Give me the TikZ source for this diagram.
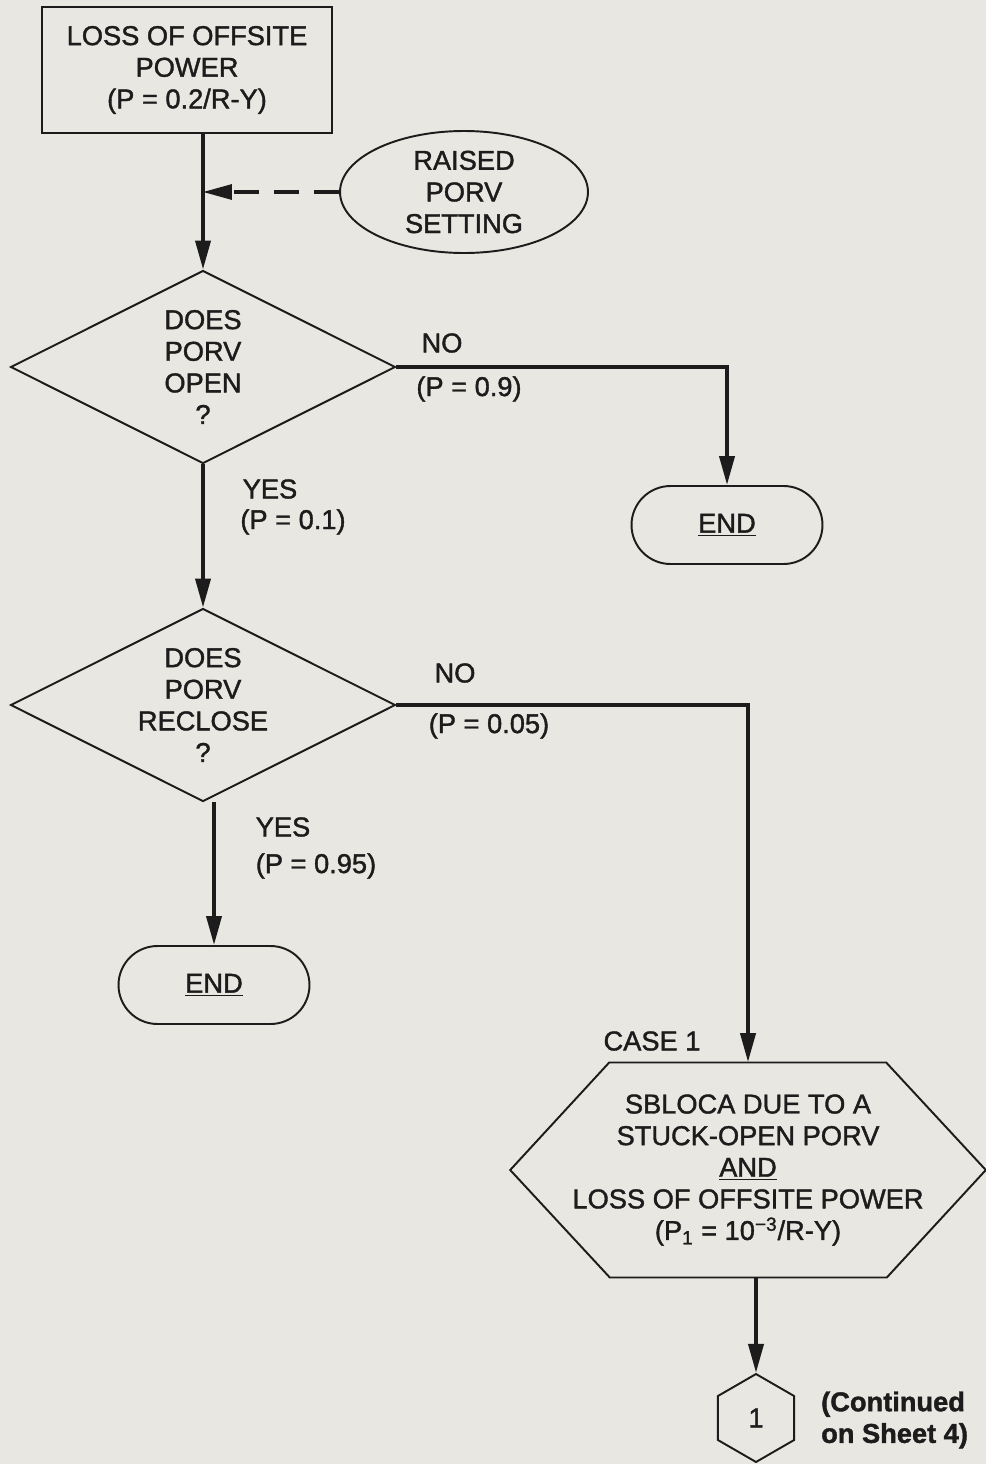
\documentclass[tikz,border=0pt]{standalone}
\usepackage{fontspec}
\setmainfont{Liberation Sans}[FakeBold=1.4]
\usepackage{xcolor}
\usepackage{tikz}
\usetikzlibrary{arrows.meta,shapes.geometric,positioning}

\definecolor{paper}{RGB}{233,231,225}
\definecolor{ink}{RGB}{28,28,28}

\begin{document}
\begin{tikzpicture}[x=0.02cm,y=-0.02cm,>={Triangle[length=0.58cm,width=0.3cm]},
  font={\fontsize{15.5}{18}\selectfont},ink,
  box/.style={draw,line width=1.1pt,align=center,inner sep=0pt},
  flow/.style={->,line width=2.2pt},
  endbox/.style={box,minimum width=3.82cm,minimum height=1.56cm,rounded corners=0.78cm},
  ask/.style={box,diamond,aspect=2,minimum width=7.7cm,minimum height=3.86cm}]
\fill[paper] (0,0) rectangle (986,1464);
\useasboundingbox (0,0) rectangle (986,1464);
% boxes
\node[box,minimum width=5.8cm,minimum height=2.52cm] (lop) at (187,70) {LOSS OF OFFSITE\\POWER\\(P = 0.2/R-Y)};
\node[box,ellipse,minimum width=4.96cm,minimum height=2.44cm] (raised) at (464,192) {RAISED\\PORV\\SETTING};
\node[ask] (open) at (203,367) {DOES\\PORV\\OPEN\\?};
\node[ask] (reclose) at (203,705) {DOES\\PORV\\RECLOSE\\?};
\node[endbox] (end1) at (727,525) {\underline{END}};
\node[endbox] (end2) at (214,985) {\underline{END}};
\node[align=center,inner sep=0pt,minimum width=9.5cm,minimum height=4.3cm] (case) at (748,1170)
  {SBLOCA DUE TO A\\STUCK-OPEN PORV\\\underline{AND}\\LOSS OF OFFSITE POWER\\(P\textsubscript{1} = 10\textsuperscript{−3}/R-Y)};
\draw[line width=1.1pt] (case.west) -- ++(99,-107.5) -- ++(277,0) -- (case.east) -- ++(-99,107.5) -- ++(-277,0) -- cycle;
\node[box,regular polygon,regular polygon sides=6,shape border rotate=30,minimum size=1.76cm] (sheet) at (756,1418) {1};
% connectors
\draw[flow] (lop.south -| open.north) -- (open.north);
\draw[->,line width=1.8pt,dash pattern=on 0.5cm off 0.3cm] (raised.west) -- (raised.west -| open.north);
\draw[flow] (open.east) -| (end1.north);
\draw[flow] (open.south) -- (reclose.north);
\draw[flow] (reclose.east) -| (case.north);
\draw[flow] (reclose.south -| end2.north) -- (end2.north);
\draw[flow] (case.south -| sheet.north) -- (sheet.north);
% labels
\node at (442,343) {NO};
\node at (469,389) {(P = 0.9)};
\node at (270,489) {YES};
\node at (293,522) {(P = 0.1)};
\node at (455,673) {NO};
\node at (489,726) {(P = 0.05)};
\node at (283,827) {YES};
\node at (316,866) {(P = 0.95)};
\node at (652,1041) {CASE 1};
\node[align=left,anchor=west,font={\fontsize{15.5}{18}\selectfont\bfseries}] at (815,1420) {(Continued\\on Sheet 4)};
\end{tikzpicture}
\end{document}
